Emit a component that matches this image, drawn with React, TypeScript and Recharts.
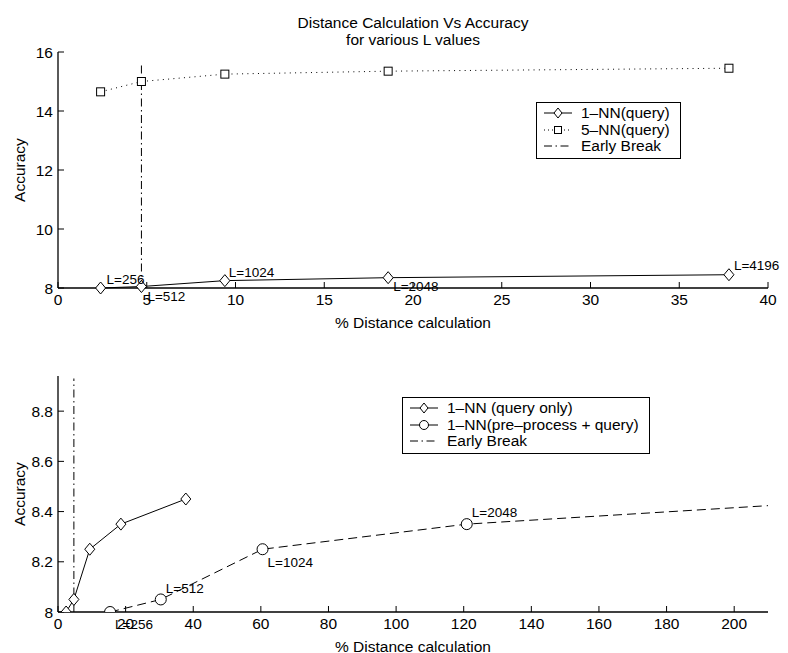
import { LineChart, Line, XAxis, YAxis, LabelList } from 'recharts'

const lValues = ['L=256', 'L=512', 'L=1024', 'L=2048', 'L=4196']

// % distance calculations, query only
const queryPct = [2.4, 4.7, 9.4, 18.6, 37.8]
// % distance calculations, pre-process + query
const preprocPct = [15.4, 30.4, 60.5, 120.9, 242]
const acc1nn = [8.0, 8.05, 8.25, 8.35, 8.45]
const acc5nn = [14.65, 15.0, 15.25, 15.35, 15.45]

const earlyBreakPct = 4.7
const topBreakAcc = [8, 15.65]
const bottomBreakAcc = [8, 8.93]

const topXTicks = [0, 5, 10, 15, 20, 25, 30, 35, 40]
const topYTicks = [8, 10, 12, 14, 16]
const botXTicks = [0, 20, 40, 60, 80, 100, 120, 140, 160, 180, 200]
const botYTicks = [8, 8.2, 8.4, 8.6, 8.8]
const botXMax = 210
const botYMax = 8.94

const query1nn = queryPct.map((x, i) => ({ x, y: acc1nn[i], tag: lValues[i] }))
const query5nn = queryPct.map((x, i) => ({ x, y: acc5nn[i] }))
const preproc1nn = preprocPct.map((x, i) => ({ x, y: acc1nn[i], tag: lValues[i] }))
const topBreak = topBreakAcc.map((y) => ({ x: earlyBreakPct, y }))
const bottomBreak = bottomBreakAcc.map((y) => ({ x: earlyBreakPct, y }))

const FONT = '"Liberation Sans", Arial, Helvetica, sans-serif'
const tickStyle = { fontSize: 15.5, fill: '#000' }
const axisLine = { stroke: '#000', strokeWidth: 1.3 }
const tickLine = { stroke: '#000', strokeWidth: 1 }
const dashDot = '8 3.5 1.5 3.5'

const Diamond = (p: any) => {
  const { cx, cy } = p
  if (cx == null || cy == null) return <g />
  return (
    <polygon
      points={`${cx},${cy - 6} ${cx + 5},${cy} ${cx},${cy + 6} ${cx - 5},${cy}`}
      fill="#fff"
      stroke="#000"
      strokeWidth={1}
    />
  )
}

const Square = (p: any) => {
  const { cx, cy } = p
  if (cx == null || cy == null) return <g />
  return <rect x={cx - 4} y={cy - 4} width={8} height={8} fill="#fff" stroke="#000" strokeWidth={1} />
}

const Circle = (p: any) => {
  const { cx, cy } = p
  if (cx == null || cy == null) return <g />
  return <circle cx={cx} cy={cy} r={5.5} fill="#fff" stroke="#000" strokeWidth={1} />
}

// label placement around each point: [dx, dy]
const topLabelOffsets = [[6, -4], [6, 14], [4, -4], [5, 13], [5, -5]]
const botLabelOffsets = [[5, 17], [5, -6], [5, 18], [5, -7], [5, -7]]

const makeLabel = (offsets: number[][], xs: number[], xMax: number) => (props: any) => {
  const { index, value } = props
  const px = props.x ?? props.viewBox?.x
  const py = props.y ?? props.viewBox?.y
  if (px == null || py == null || index == null) return null
  if (xs[index] > xMax) return null
  const [dx, dy] = offsets[index]
  return (
    <text x={px + dx} y={py + dy} fontSize={13.5} fill="#000" fontFamily={FONT}>
      {value}
    </text>
  )
}

const yLabel = (cy: number) => () =>
  (
    <text x={19} y={cy} transform={`rotate(-90, 19, ${cy})`} textAnchor="middle" dominantBaseline="central" fontSize={15.5} fill="#000">
      Accuracy
    </text>
  )

const xLabel = (props: any) => {
  const vb = props.viewBox
  return (
    <text x={vb.x + vb.width / 2} y={vb.y + 39.5} textAnchor="middle" fontSize={15.5} fill="#000">
      % Distance calculation
    </text>
  )
}

type Sym = 'diamond' | 'square' | 'circle' | 'none'
const LegendBox = ({ items, left, top }: { items: { name: string; dash?: string; sym: Sym }[]; left: number; top: number }) => (
  <div style={{ position: 'absolute', left, top, border: '1.5px solid #000', background: '#fff', padding: '2px 10px 3px 0', fontSize: 15.5, fontFamily: FONT }}>
    {items.map((it) => (
      <div key={it.name} style={{ display: 'flex', alignItems: 'center', height: 16.5, whiteSpace: 'nowrap' }}>
        <svg width={44} height={16} style={{ flex: 'none' }}>
          <line x1={7} x2={35} y1={8} y2={8} stroke="#000" strokeWidth={1} strokeDasharray={it.dash} />
          {it.sym === 'diamond' && <polygon points="21,3 25,8 21,13 17,8" fill="#fff" stroke="#000" />}
          {it.sym === 'square' && <rect x={17.5} y={4.5} width={7} height={7} fill="#fff" stroke="#000" />}
          {it.sym === 'circle' && <circle cx={21} cy={8} r={4.5} fill="#fff" stroke="#000" />}
        </svg>
        <span>{it.name}</span>
      </div>
    ))}
  </div>
)

export default function App() {
  return (
    <div style={{ position: 'absolute', left: 0, top: 0, width: 788, height: 653, background: '#fff', fontFamily: FONT }}>
      <div style={{ position: 'absolute', left: 58, width: 710, top: 14, textAlign: 'center', fontSize: 15.5, lineHeight: '17px' }}>
        Distance Calculation Vs Accuracy
        <br />
        for various L values
      </div>

      <div style={{ position: 'absolute', left: 0, top: 0 }}>
        <LineChart width={788} height={330} margin={{ top: 52, right: 20, bottom: 2, left: 0 }}>
          <XAxis dataKey="x" type="number" domain={[0, 40]} ticks={topXTicks} height={40} tick={tickStyle}
            axisLine={axisLine} tickLine={tickLine} tickSize={-6} tickMargin={12} label={xLabel} />
          <XAxis xAxisId="top" orientation="top" dataKey="x" type="number" domain={[0, 40]} ticks={topXTicks}
            height={0} tick={false} axisLine={axisLine} tickLine={tickLine} tickSize={-6} />
          <YAxis type="number" domain={[8, 16]} ticks={topYTicks} width={58} tick={tickStyle}
            axisLine={axisLine} tickLine={tickLine} tickSize={-6} tickMargin={11} label={yLabel(170)} />
          <YAxis yAxisId="right" orientation="right" type="number" domain={[8, 16]} ticks={topYTicks}
            width={0} tick={false} axisLine={axisLine} tickLine={tickLine} tickSize={-6} />
          <Line data={query1nn} dataKey="y" name="1-NN(query)" stroke="#000" strokeWidth={1}
            dot={Diamond} activeDot={false} isAnimationActive={false}>
            <LabelList dataKey="tag" content={makeLabel(topLabelOffsets, queryPct, 40)} />
          </Line>
          <Line data={query5nn} dataKey="y" name="5-NN(query)" stroke="#000" strokeWidth={1}
            strokeDasharray="1 4.3" dot={Square} activeDot={false} isAnimationActive={false} />
          <Line data={topBreak} dataKey="y" name="Early Break" stroke="#000" strokeWidth={1}
            strokeDasharray={dashDot} dot={false} activeDot={false} isAnimationActive={false} />
        </LineChart>
        <LegendBox
          left={536}
          top={102}
          items={[
            { name: '1\u2013NN(query)', sym: 'diamond' },
            { name: '5\u2013NN(query)', sym: 'square', dash: '1 3' },
            { name: 'Early Break', sym: 'none', dash: dashDot },
          ]}
        />
      </div>

      <div style={{ position: 'absolute', left: 0, top: 330 }}>
        <LineChart width={788} height={323} margin={{ top: 46, right: 20, bottom: 1, left: 0 }}>
          <XAxis dataKey="x" type="number" domain={[0, botXMax]} allowDataOverflow ticks={botXTicks} height={40}
            tick={tickStyle} axisLine={axisLine} tickLine={tickLine} tickSize={-6} tickMargin={12} label={xLabel} />
          <XAxis xAxisId="top" orientation="top" dataKey="x" type="number" domain={[0, botXMax]} allowDataOverflow
            ticks={botXTicks} height={0} tick={false} axisLine={axisLine} tickLine={tickLine} tickSize={-6} />
          <YAxis type="number" domain={[8, botYMax]} allowDataOverflow ticks={botYTicks} width={58} tick={tickStyle}
            axisLine={axisLine} tickLine={tickLine} tickSize={-6} tickMargin={11} label={yLabel(164)} />
          <YAxis yAxisId="right" orientation="right" type="number" domain={[8, botYMax]} allowDataOverflow
            ticks={botYTicks} width={0} tick={false} axisLine={axisLine} tickLine={tickLine} tickSize={-6} />
          <Line data={query1nn} dataKey="y" name="1-NN (query only)" stroke="#000" strokeWidth={1}
            dot={Diamond} activeDot={false} isAnimationActive={false} />
          <Line data={preproc1nn} dataKey="y" name="1-NN(pre-process + query)" stroke="#000" strokeWidth={1}
            strokeDasharray="9 5" dot={Circle} activeDot={false} isAnimationActive={false}>
            <LabelList dataKey="tag" content={makeLabel(botLabelOffsets, preprocPct, botXMax)} />
          </Line>
          <Line data={bottomBreak} dataKey="y" name="Early Break" stroke="#000" strokeWidth={1}
            strokeDasharray={dashDot} dot={false} activeDot={false} isAnimationActive={false} />
        </LineChart>
        <LegendBox
          left={402}
          top={67}
          items={[
            { name: '1\u2013NN (query only)', sym: 'diamond' },
            { name: '1\u2013NN(pre\u2013process + query)', sym: 'circle' },
            { name: 'Early Break', sym: 'none', dash: dashDot },
          ]}
        />
      </div>
    </div>
  )
}
